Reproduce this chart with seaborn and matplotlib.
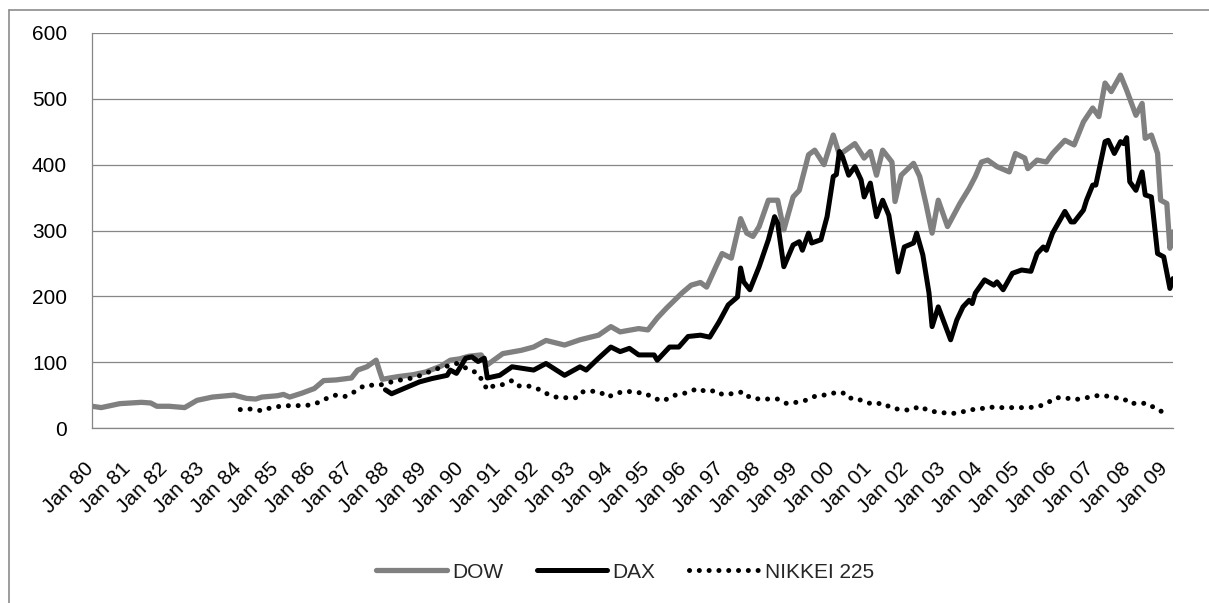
import matplotlib
matplotlib.use("Agg")
import matplotlib.pyplot as plt
import seaborn as sns
from matplotlib.lines import Line2D
from matplotlib.transforms import ScaledTranslation

# ---------------- data (month index: 0 = Jan 1980) ----------------
dow_month = [0, 3, 9, 16, 19, 21, 25, 30, 34, 39, 46, 50, 53, 55, 60, 62, 64, 68, 72, 75,
             79, 84, 86, 89, 92, 93, 94, 99, 104, 108, 113, 116, 119, 122, 126, 128, 133, 139, 143, 147,
             153, 158, 164, 168, 171, 177, 180, 183, 186, 191, 194, 197, 199, 202, 204, 207, 210, 212, 214, 216,
             219, 222, 224, 227, 229, 232, 234, 237, 240, 242, 247, 250, 252, 254, 256, 259, 260, 262, 266, 268,
             270, 272, 274, 277, 281, 284, 286, 288, 290, 293, 297, 299, 302, 303, 306, 309, 311, 315, 318, 321,
             324, 326, 328, 330, 333, 335, 338, 340, 341, 343, 345, 346, 348, 349, 350]
dow_value = [33, 31, 37, 39, 38, 33, 33, 31, 42, 47, 50, 45, 44, 47, 49, 51, 47, 53, 60, 72,
             73, 76, 88, 93, 103, 88, 74, 78, 81, 85, 94, 103, 105, 109, 111, 96, 113, 118, 123, 133,
             126, 134, 141, 154, 146, 151, 149, 167, 182, 205, 217, 221, 214, 245, 265, 258, 318, 296, 291, 306,
             346, 346, 301, 351, 361, 415, 422, 400, 445, 415, 432, 410, 420, 384, 422, 404, 344, 384, 402, 382,
             341, 296, 346, 306, 341, 364, 382, 404, 407, 397, 389, 417, 410, 394, 407, 404, 417, 437, 430, 465,
             486, 473, 524, 511, 536, 513, 475, 493, 440, 445, 417, 346, 341, 273, 298]

dax_month = [95, 97, 101, 106, 110, 115, 116, 118, 121, 123, 125, 127, 128, 132, 136, 143, 147, 153, 158, 160,
             164, 168, 171, 174, 177, 182, 183, 187, 190, 193, 197, 200, 203, 206, 209, 210, 211, 213, 216, 219,
             221, 222, 224, 227, 229, 230, 232, 233, 236, 238, 240, 241, 242, 243, 245, 247, 249, 250, 252, 254,
             256, 258, 261, 263, 266, 267, 269, 271, 272, 274, 278, 280, 282, 284, 285, 286, 289, 292, 293, 295,
             298, 301, 304, 306, 308, 309, 311, 315, 317, 318, 321, 322, 324, 325, 328, 329, 331, 333, 334, 335,
             336, 338, 340, 341, 343, 345, 347, 349, 350]
dax_value = [58, 52, 60, 70, 75, 80, 88, 83, 106, 108, 101, 106, 76, 80, 93, 88, 98, 80, 93, 88,
             106, 123, 116, 121, 111, 111, 103, 123, 123, 139, 141, 138, 161, 187, 199, 243, 222, 210, 245, 286,
             321, 311, 245, 278, 283, 270, 296, 281, 286, 321, 382, 385, 420, 412, 384, 397, 377, 351, 372, 321,
             346, 323, 237, 275, 281, 296, 263, 205, 154, 184, 134, 164, 184, 194, 189, 205, 225, 217, 222, 210,
             235, 240, 238, 265, 275, 270, 296, 329, 313, 313, 331, 346, 369, 369, 435, 437, 417, 435, 432, 441,
             374, 361, 389, 354, 351, 265, 260, 212, 227]

nikkei_month = [48, 52, 55, 58, 61, 64, 68, 71, 74, 76, 79, 82, 85, 88, 90, 93, 97, 101, 104, 107,
                110, 113, 115, 118, 122, 125, 128, 130, 133, 136, 138, 141, 143, 146, 148, 151, 154, 157, 159, 163,
                165, 167, 170, 173, 176, 179, 182, 185, 188, 190, 193, 196, 199, 202, 204, 207, 211, 213, 216, 219,
                222, 225, 228, 231, 234, 236, 240, 243, 245, 247, 250, 253, 256, 259, 262, 265, 268, 271, 274, 278,
                281, 284, 287, 290, 293, 297, 300, 303, 306, 309, 312, 315, 318, 321, 325, 328, 331, 334, 336, 339,
                342, 345, 348]
nikkei_value = [28, 29, 26, 31, 33, 34, 34, 35, 40, 45, 50, 48, 55, 64, 65, 65, 70, 74, 76, 81,
                87, 92, 94, 98, 89, 83, 58, 64, 66, 72, 64, 64, 62, 56, 50, 46, 46, 46, 55, 56,
                53, 47, 53, 56, 54, 53, 45, 41, 49, 51, 54, 60, 55, 57, 51, 52, 55, 46, 44, 44,
                44, 37, 39, 42, 48, 49, 53, 54, 45, 46, 40, 36, 38, 30, 28, 27, 33, 26, 24, 22,
                23, 28, 28, 32, 31, 31, 31, 31, 32, 37, 46, 46, 43, 45, 49, 49, 46, 45, 37, 38,
                37, 27, 23]

label_months = list(range(0, 349, 12))
tick_labels = ["Jan %02d" % (y % 100) for y in range(1980, 2010)]
minor_ticks = list(range(0, 351, 10))
y_ticks = [0, 100, 200, 300, 400, 500, 600]

# ---------------- style ----------------
sns.set_style("white")
plt.rcParams["font.family"] = ["Liberation Sans", "DejaVu Sans"]
GRAY = "#868686"
FS = 15

fig = plt.figure(figsize=(12.09, 6.03), dpi=100, facecolor="white")
W, H = 1209, 603
ax = fig.add_axes([92 / W, 1 - 428 / H, (1173 - 92) / W, (428 - 33) / H])

sns.lineplot(x=dow_month, y=dow_value, ax=ax, color="#808080", lw=3.8,
             solid_joinstyle="round", solid_capstyle="round", label="DOW")
sns.lineplot(x=dax_month, y=dax_value, ax=ax, color="black", lw=3.6,
             solid_joinstyle="round", solid_capstyle="round", label="DAX")
sns.lineplot(x=nikkei_month, y=nikkei_value, ax=ax, color="black", lw=3.6,
             linestyle=(0, (0.01, 1.95)), dash_capstyle="round", label="NIKKEI 225")

ax.set_xlim(0, 350)
ax.set_ylim(0, 600)
ax.set_xlabel("")
ax.set_ylabel("")

ax.set_yticks(y_ticks)
ax.set_yticklabels([str(v) for v in y_ticks])
ax.yaxis.grid(True, color=GRAY, lw=0.9)
ax.xaxis.grid(False)
ax.set_axisbelow(True)

for s in ["top", "right"]:
    ax.spines[s].set_visible(False)
for s in ["left", "bottom"]:
    ax.spines[s].set_color(GRAY)
    ax.spines[s].set_linewidth(0.9)

ax.set_xticks(label_months)
ax.set_xticklabels(tick_labels, rotation=45, ha="right", va="top")
ax.set_xticks(minor_ticks, minor=True)

ax.tick_params(axis="y", which="major", direction="out", length=6, width=0.9,
               color=GRAY, labelsize=FS, pad=12, labelcolor="black")
ax.tick_params(axis="x", which="major", length=0, labelsize=FS, pad=22, labelcolor="black")
ax.tick_params(axis="x", which="minor", direction="out", length=6.5, width=0.9, color=GRAY)

offset = ScaledTranslation(5 / 100, 0, fig.dpi_scale_trans)
for lab in ax.get_xticklabels():
    lab.set_transform(lab.get_transform() + offset)

# legend at bottom
handles, labels = ax.get_legend_handles_labels()
ax.get_legend().remove()
fig.legend(handles, labels, loc="center", bbox_to_anchor=(625 / W, 1 - 572 / H), ncol=3,
           frameon=False, fontsize=FS, handlelength=3.4, handletextpad=0.25, columnspacing=1.6)

# chart-area border (left and top edges visible)
fig.add_artist(Line2D([9 / W, 9 / W], [0, 1 - 10 / H], transform=fig.transFigure, color="#8c8c8c", lw=1.2))
fig.add_artist(Line2D([9 / W, 1], [1 - 10 / H, 1 - 10 / H], transform=fig.transFigure, color="#8c8c8c", lw=1.2))

fig.savefig("out.png", dpi=100, facecolor="white")
